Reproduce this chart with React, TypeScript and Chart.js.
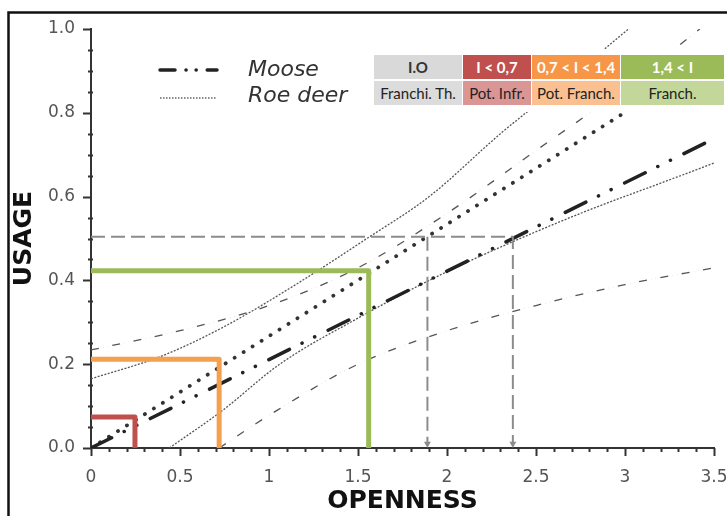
import React, { useEffect, useRef } from "react";
import { Chart, registerables } from "chart.js";

Chart.register(...registerables);

// ---------- data ----------
const xTicks = [0, 0.5, 1, 1.5, 2, 2.5, 3, 3.5];
const yTicks = [0, 0.2, 0.4, 0.6, 0.8, 1.0];

const seriesNames = ["Moose", "Roe deer"];

const mooseX = [0, 1, 2, 3, 3.47];
const mooseY = [0, 0.211, 0.422, 0.633, 0.732];
const roeX = [0, 1, 2, 3, 3.5];
const roeY = [0, 0.267, 0.534, 0.801, 0.935];

const mooseUpperX = [0, 0.5, 1.0, 1.5, 2.0, 2.5, 3.0, 3.42];
const mooseUpperY = [0.234, 0.28, 0.34, 0.43, 0.56, 0.71, 0.86, 1.0];
const mooseLowerX = [0.72, 1.0, 1.5, 2.0, 2.5, 3.0, 3.5];
const mooseLowerY = [0, 0.078, 0.2, 0.28, 0.34, 0.39, 0.43];

const roeUpperX = [0, 0.4, 0.75, 1.15, 1.55, 1.9, 2.3, 2.65, 3.02];
const roeUpperY = [0.165, 0.22, 0.29, 0.39, 0.5, 0.6, 0.75, 0.87, 1.0];
const roeLowerX = [0.44, 0.74, 1.06, 1.5, 1.9, 2.24, 2.75, 3.25, 3.5];
const roeLowerY = [0, 0.09, 0.2, 0.31, 0.4, 0.468, 0.56, 0.64, 0.68];

// threshold steps (openness, usage)
const thresholdX = [0.247, 0.72, 1.56];
const thresholdY = [0.074, 0.212, 0.423];
const thresholdColors = ["#c0504d", "#f5a04e", "#9bbb59"];

// target usage and the openness reached by each species
const targetUsage = 0.504;
const targetX = [1.89, 2.37];
const arrowY = 0.01;

// table
const tableHeaders = ["I.O", "I < 0,7", "0,7 < I < 1,4", "1,4 < I"];
const tableLabels = ["Franchi. Th.", "Pot. Infr.", "Pot. Franch.", "Franch."];

// ---------- styles ----------
const headerBg = ["#d9d9d9", "#c0504d", "#f79646", "#9bbb59"];
const headerFg = ["#333333", "#ffffff", "#ffffff", "#ffffff"];
const labelBg = ["#dcdcdc", "#da9694", "#fac090", "#c4d79b"];
const colLeft = [374, 463, 532, 621];
const colWidth = [88, 68, 88, 103];
const rowTop = [55, 81];
const rowHeight = 24;

const pts = (xs: number[], ys: number[]) => xs.map((x, i) => ({ x, y: ys[i] }));

const decorPlugin = {
  id: "decor",
  afterDraw(chart: any) {
    const { ctx, chartArea, scales } = chart;
    const xs = scales.x;
    const ys = scales.y;
    ctx.save();
    // frame (top & left)
    ctx.strokeStyle = "#111";
    ctx.lineWidth = 2.5;
    ctx.setLineDash([]);
    ctx.beginPath();
    ctx.moveTo(8.5, 516);
    ctx.lineTo(8.5, 12.5);
    ctx.lineTo(727, 12.5);
    ctx.stroke();

    // y ticks (major every 0.2, minor every 0.05)
    ctx.strokeStyle = "#333";
    ctx.lineWidth = 2;
    for (let i = 0; i <= 20; i++) {
      const py = Math.round(ys.getPixelForValue(i * 0.05)) + 0.5;
      const major = i % 4 === 0;
      ctx.beginPath();
      if (major) {
        ctx.moveTo(chartArea.left - 8, py);
        ctx.lineTo(chartArea.left, py);
      } else {
        ctx.moveTo(chartArea.left - 3, py);
        ctx.lineTo(chartArea.left + 2, py);
      }
      ctx.stroke();
    }
    // x ticks (major every 0.5, minor every 0.1)
    for (let i = 0; i <= 35; i++) {
      const px = Math.round(xs.getPixelForValue(i * 0.1)) + 0.5;
      const major = i % 5 === 0;
      ctx.beginPath();
      ctx.moveTo(px, chartArea.bottom);
      ctx.lineTo(px, chartArea.bottom + (major ? 8 : 4));
      ctx.stroke();
    }

    // legend
    ctx.lineCap = "round";
    ctx.strokeStyle = "#222";
    ctx.lineWidth = 3.5;
    ctx.setLineDash([15, 11, 0.1, 10, 0.1, 11]);
    ctx.beginPath();
    ctx.moveTo(160, 70);
    ctx.lineTo(217, 70);
    ctx.stroke();
    ctx.lineCap = "butt";
    ctx.strokeStyle = "#666";
    ctx.lineWidth = 1.4;
    ctx.setLineDash([1.5, 1.5]);
    ctx.beginPath();
    ctx.moveTo(160, 98);
    ctx.lineTo(217, 98);
    ctx.stroke();
    ctx.setLineDash([]);
    ctx.fillStyle = "#333";
    ctx.font = "oblique 22px 'DejaVu Sans'";
    ctx.textBaseline = "alphabetic";
    ctx.textAlign = "left";
    ctx.fillText(seriesNames[0], 248, 76);
    ctx.fillText(seriesNames[1], 248, 102);
    ctx.restore();
  },
};

export default function App() {
  const canvasRef = useRef<HTMLCanvasElement | null>(null);

  useEffect(() => {
    const canvas = canvasRef.current;
    if (!canvas) return;
    Chart.defaults.font.family = "'DejaVu Sans'";

    const thresholdSets = thresholdX.map((tx, i) => ({
      label: "threshold" + i,
      data: [
        { x: 0, y: thresholdY[i] },
        { x: tx, y: thresholdY[i] },
        { x: tx, y: 0 },
      ],
      borderColor: thresholdColors[i],
      borderWidth: 5,
      borderJoinStyle: "round",
      pointRadius: 0,
      order: 0,
    }));

    const targetSets = [
      {
        label: "target-main",
        data: [
          { x: 0, y: targetUsage },
          { x: targetX[1], y: targetUsage },
          { x: targetX[1], y: arrowY },
        ],
      },
      {
        label: "target-roe",
        data: [
          { x: targetX[0], y: targetUsage },
          { x: targetX[0], y: arrowY },
        ],
      },
    ].map((d) => ({
      ...d,
      borderColor: "#8c8c8c",
      borderWidth: 2,
      borderDash: [14, 6],
      pointRadius: (c: any) => (c.dataIndex === d.data.length - 1 ? 4 : 0),
      pointStyle: "triangle",
      rotation: 180,
      pointBackgroundColor: "#8c8c8c",
      pointBorderColor: "#8c8c8c",
      pointBorderWidth: 0,
      order: 1,
    }));

    const chart = new Chart(canvas, {
      type: "line",
      data: {
        datasets: [
          ...thresholdSets,
          ...targetSets,
          {
            label: "Moose",
            data: pts(mooseX, mooseY),
            borderColor: "#222",
            borderWidth: 3.5,
            borderCapStyle: "round",
            borderDash: [23, 14, 0.1, 14, 0.1, 15],
            pointRadius: 0,
            order: 2,
          },
          {
            label: "Roe deer",
            data: pts(roeX, roeY),
            borderColor: "#333",
            borderWidth: 3.8,
            borderCapStyle: "round",
            borderDash: [0.1, 10.5],
            pointRadius: 0,
            order: 2,
          },
          {
            label: "Moose upper",
            data: pts(mooseUpperX, mooseUpperY),
            borderColor: "#555",
            borderWidth: 1.3,
            borderDash: [8, 4.5, 0.1, 4.5, 0.1, 4.5],
            cubicInterpolationMode: "monotone",
            pointRadius: 0,
            order: 3,
          },
          {
            label: "Moose lower",
            data: pts(mooseLowerX, mooseLowerY),
            borderColor: "#555",
            borderWidth: 1.3,
            borderDash: [8, 4.5, 0.1, 4.5, 0.1, 4.5],
            cubicInterpolationMode: "monotone",
            pointRadius: 0,
            order: 3,
          },
          {
            label: "Roe upper",
            data: pts(roeUpperX, roeUpperY),
            borderColor: "#555",
            borderWidth: 1.3,
            borderDash: [2, 1.5],
            cubicInterpolationMode: "monotone",
            pointRadius: 0,
            order: 3,
          },
          {
            label: "Roe lower",
            data: pts(roeLowerX, roeLowerY),
            borderColor: "#555",
            borderWidth: 1.3,
            borderDash: [2, 1.5],
            cubicInterpolationMode: "monotone",
            pointRadius: 0,
            order: 3,
          },
        ] as any,
      },
      options: {
        animation: false,
        responsive: false,
        maintainAspectRatio: false,
        layout: { padding: { left: 0, top: 29, right: 13, bottom: 0 } },
        plugins: {
          legend: { display: false },
          tooltip: { enabled: false },
        },
        scales: {
          x: {
            type: "linear",
            min: 0,
            max: 3.5,
            afterBuildTicks: (s: any) => {
              s.ticks = xTicks.map((v) => ({ value: v }));
            },
            afterFit: (s: any) => {
              s.height = 68;
              s.paddingLeft = 0;
              s.paddingRight = 0;
            },
            ticks: {
              autoSkip: false,
              maxRotation: 0,
              padding: 19,
              color: "#555",
              font: { size: 17, family: "'DejaVu Sans'" },
              callback: (v: any) => String(v),
            },
            grid: { display: false, drawTicks: false },
            border: { display: true, color: "#333", width: 2 },
            title: {
              display: true,
              text: "OPENNESS",
              color: "#111",
              font: { size: 25, weight: "bold", family: "'DejaVu Sans'" },
              padding: { top: 0, bottom: 0 },
            },
          },
          y: {
            type: "linear",
            min: 0,
            max: 1,
            afterBuildTicks: (s: any) => {
              s.ticks = yTicks.map((v) => ({ value: v }));
            },
            afterFit: (s: any) => {
              s.width = 91;
              s.paddingTop = 0;
              s.paddingBottom = 0;
            },
            ticks: {
              padding: 16,
              color: "#555",
              font: { size: 17, family: "'DejaVu Sans'" },
              callback: (v: any) => Number(v).toFixed(1),
            },
            grid: { display: false, drawTicks: false },
            border: { display: true, color: "#333", width: 2 },
            title: {
              display: true,
              text: "USAGE",
              color: "#111",
              font: { size: 25, weight: "bold", family: "'DejaVu Sans'" },
              padding: { top: 9, bottom: 0 },
            },
          },
        },
      } as any,
      plugins: [decorPlugin],
    });
    return () => chart.destroy();
  }, []);

  return (
    <div style={{ position: "absolute", left: 0, top: 0, width: 727, height: 516, background: "#fff" }}>
      <canvas ref={canvasRef} width={727} height={516} style={{ display: "block" }} />
      <div
        style={{
          position: "absolute",
          left: 370,
          top: 49,
          width: 357,
          height: 63,
          background: "#fff",
        }}
      />
      {tableHeaders.map((t, i) => (
        <div
          key={"h" + i}
          style={{
            position: "absolute",
            left: colLeft[i],
            top: rowTop[0],
            width: colWidth[i],
            height: rowHeight,
            background: headerBg[i],
            color: headerFg[i],
            fontFamily: "Lato, 'Open Sans', sans-serif",
            fontWeight: 700,
            fontSize: 15,
            display: "flex",
            alignItems: "center",
            justifyContent: "center",
            whiteSpace: "nowrap",
          }}
        >
          {t}
        </div>
      ))}
      {tableLabels.map((t, i) => (
        <div
          key={"l" + i}
          style={{
            position: "absolute",
            left: colLeft[i],
            top: rowTop[1],
            width: colWidth[i],
            height: rowHeight,
            background: labelBg[i],
            color: "#222",
            fontFamily: "Lato, 'Open Sans', sans-serif",
            fontSize: 15,
            display: "flex",
            alignItems: "center",
            justifyContent: "center",
            whiteSpace: "nowrap",
          }}
        >
          {t}
        </div>
      ))}
    </div>
  );
}
